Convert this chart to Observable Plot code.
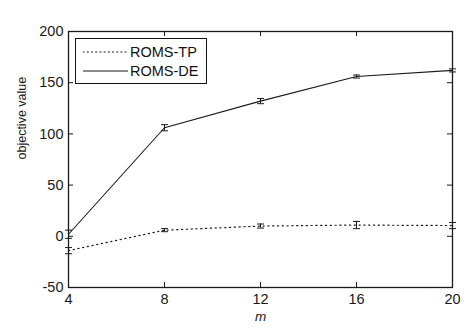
<!DOCTYPE html>
<html><head><meta charset="utf-8">
<script src="https://cdn.jsdelivr.net/npm/d3@7"></script>
<script src="https://cdn.jsdelivr.net/npm/@observablehq/plot@0.6"></script>
<style>
body{margin:0;background:#fff;}
#wrap{position:relative;width:474px;height:336px;font-family:"Liberation Sans",Arial,sans-serif;}
#legend{position:absolute;left:75px;top:38px;width:132px;height:46px;border:1px solid #111;background:#fff;box-sizing:border-box;font-size:14.5px;color:#111;}
.row{position:absolute;left:0;height:20px;display:flex;align-items:center;}
.row svg{margin-left:7px;margin-right:2px;}
</style>
</head><body>
<div id="wrap"><div id="chart"></div><div id="legend"></div></div>
<script>
const mValues = [4, 8, 12, 16, 20];
const seriesNames = ["ROMS-TP", "ROMS-DE"];
const tpMean = [-14, 6, 10, 11, 10.5];
const tpErr = [3, 1.5, 2, 3.5, 3];
const deMean = [2, 106, 132, 156, 162];
const deErr = [4, 3, 2.5, 1.5, 1.5];
const xTicks = [4, 8, 12, 16, 20];
const yTicks = [-50, 0, 50, 100, 150, 200];

const data = [];
mValues.forEach((m, i) => {
  data.push({series: seriesNames[0], m, v: tpMean[i], e: tpErr[i]});
  data.push({series: seriesNames[1], m, v: deMean[i], e: deErr[i]});
});
const tp = data.filter(d => d.series === seriesNames[0]);
const de = data.filter(d => d.series === seriesNames[1]);

const W = 474, H = 336, mL = 68, mR = 22, mT = 31, mB = 49;
const iw = W - mL - mR, ih = H - mT - mB;
const capSymbol = {draw(ctx, size) { const r = 3.5; ctx.moveTo(-r, 0); ctx.lineTo(r, 0); }};
const ink = "#1a1a1a";
const fmt = d => String(d);

const chart = Plot.plot({
  width: W, height: H,
  marginLeft: mL, marginRight: mR, marginTop: mT, marginBottom: mB,
  style: {fontFamily: '"Liberation Sans", Arial, sans-serif', fontSize: "14px", color: ink, background: "#fff"},
  x: {domain: [4, 20], ticks: xTicks, label: null},
  y: {domain: [-50, 200], ticks: yTicks, label: null},
  marks: [
    Plot.axisX({ticks: xTicks, tickFormat: fmt, tickSize: 0, tickPadding: 6, fontSize: 14.5, label: null}),
    Plot.axisY({ticks: yTicks, tickFormat: fmt, tickSize: 0, tickPadding: 5, fontSize: 14.5, label: null}),
    Plot.ruleX(xTicks, {x: d => d, insetTop: ih - 5, stroke: ink}),
    Plot.ruleX(xTicks, {x: d => d, insetBottom: ih - 5, stroke: ink}),
    Plot.ruleY(yTicks, {y: d => d, insetRight: iw - 5, stroke: ink}),
    Plot.ruleY(yTicks, {y: d => d, insetLeft: iw - 5, stroke: ink}),
    Plot.frame({stroke: ink, strokeWidth: 1.3}),
    Plot.line(tp, {x: "m", y: "v", stroke: ink, strokeWidth: 1.2, strokeDasharray: "1.2,3.6", strokeLinecap: "round"}),
    Plot.line(de, {x: "m", y: "v", stroke: ink, strokeWidth: 1.1}),
    Plot.ruleX(data, {x: "m", y1: d => d.v - d.e, y2: d => d.v + d.e, stroke: ink, strokeWidth: 1}),
    Plot.dot(data, {x: "m", y: d => d.v - d.e, symbol: capSymbol, stroke: ink, strokeWidth: 1, r: 3}),
    Plot.dot(data, {x: "m", y: d => d.v + d.e, symbol: capSymbol, stroke: ink, strokeWidth: 1, r: 3}),
    Plot.text(["objective value"], {frameAnchor: "left", text: d => d, rotate: -90, dx: -47, fontSize: 12.5, fill: ink}),
    Plot.text(["m"], {frameAnchor: "bottom", text: d => d, dy: 33, fontSize: 13.5, fontStyle: "italic", fill: ink})
  ]
});
document.getElementById("chart").appendChild(chart);

const legend = document.getElementById("legend");
const dashes = ["1.2,3", null];
seriesNames.forEach((name, i) => {
  const row = document.createElement("div");
  row.className = "row";
  row.style.top = (3 + i * 19) + "px";
  row.innerHTML = `<svg width="45" height="10"><line x1="0" x2="45" y1="5" y2="5" stroke="${ink}" stroke-width="1.1" ${dashes[i] ? `stroke-dasharray="${dashes[i]}" stroke-linecap="round"` : ""}/></svg><span>${name}</span>`;
  legend.appendChild(row);
});
</script>
</body></html>
